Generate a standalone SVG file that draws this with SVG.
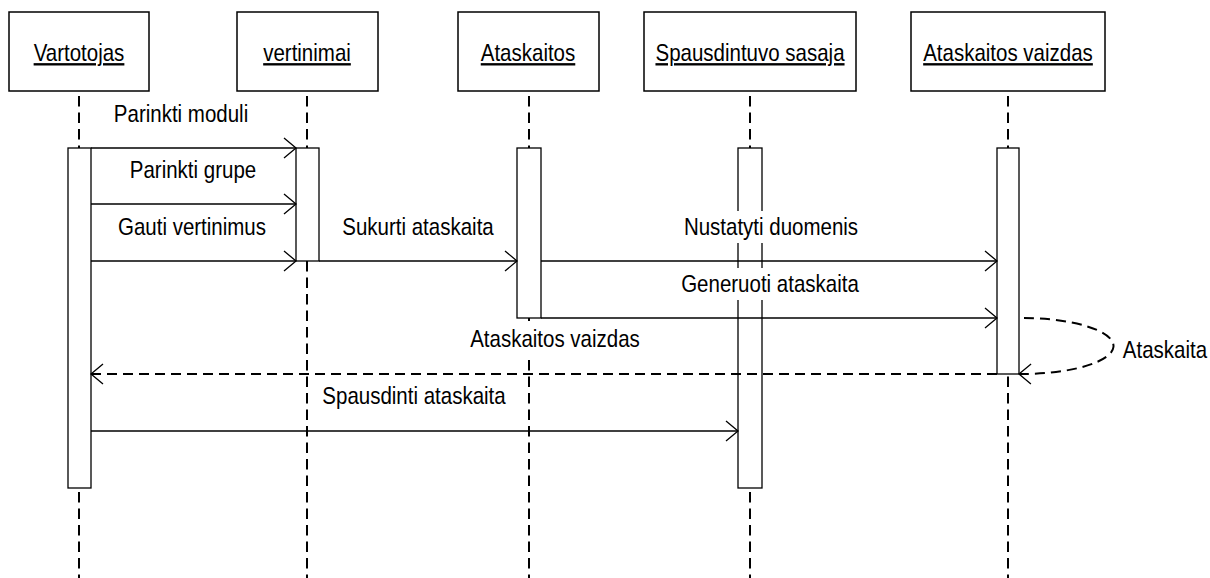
<svg xmlns="http://www.w3.org/2000/svg" width="1210" height="578" viewBox="0 0 1210 578">
  <style>
    .box { fill: #fff; stroke: #000; stroke-width: 1.5; }
    .life { fill: none; stroke: #000; stroke-width: 2; stroke-dasharray: 10.5 6; }
    .act { fill: #fff; stroke: #000; stroke-width: 1.3; }
    .msg { fill: none; stroke: #000; stroke-width: 1.3; marker-end: url(#open); }
    .ret { fill: none; stroke: #000; stroke-width: 2; stroke-dasharray: 10 6; marker-end: url(#open); }
    .lbl { font-family: "Liberation Sans", Arial, sans-serif; font-size: 20.5px; fill: #000; text-anchor: middle; }
    .title { text-decoration: underline; }
    .bg { fill: #fff; stroke: none; }
  </style>
  <defs>
    <marker id="open" markerUnits="userSpaceOnUse" viewBox="-14 -12 16 24" refX="0" refY="0" markerWidth="16" markerHeight="24" orient="auto" overflow="visible">
      <path d="M-12,-10 L0,0 L-12,10" fill="none" stroke="#000" stroke-width="1.3"/>
    </marker>
  </defs>

  <rect width="1210" height="578" fill="#fff"/>

  <!-- lifelines -->
  <g id="lifelines">
    <line class="life" x1="79" y1="96" x2="79" y2="578"/>
    <line class="life" x1="307" y1="96" x2="307" y2="578"/>
    <line class="life" x1="529" y1="96" x2="529" y2="578"/>
    <line class="life" x1="750" y1="96" x2="750" y2="578"/>
    <line class="life" x1="1008" y1="96" x2="1008" y2="578"/>
  </g>

  <!-- participants -->
  <g id="vartotojas">
    <rect class="box" x="9" y="12" width="140" height="79"/>
    <text class="lbl title" transform="translate(79 61) scale(1 1.15)">Vartotojas</text>
    <rect class="act" x="68" y="148" width="23" height="340"/>
  </g>
  <g id="vertinimai">
    <rect class="box" x="237" y="12" width="141" height="79"/>
    <text class="lbl title" transform="translate(307 61) scale(1 1.15)">vertinimai</text>
    <rect class="act" x="296" y="148" width="23" height="113"/>
  </g>
  <g id="ataskaitos">
    <rect class="box" x="458" y="12" width="141" height="79"/>
    <text class="lbl title" transform="translate(528 61) scale(1 1.15)">Ataskaitos</text>
    <rect class="act" x="517" y="148" width="24" height="170"/>
  </g>
  <g id="spausdintuvo-sasaja">
    <rect class="box" x="644" y="12" width="212" height="79"/>
    <text class="lbl title" transform="translate(750 61) scale(1 1.15)">Spausdintuvo sasaja</text>
    <rect class="act" x="738" y="148" width="24" height="340"/>
  </g>
  <g id="ataskaitos-vaizdas">
    <rect class="box" x="911" y="12" width="194" height="79"/>
    <text class="lbl title" transform="translate(1008 61) scale(1 1.15)">Ataskaitos vaizdas</text>
    <rect class="act" x="997" y="148" width="22" height="226"/>
  </g>

  <!-- messages -->
  <g id="connectors">
    <line class="msg" x1="91" y1="148" x2="296" y2="148"/>
    <line class="msg" x1="91" y1="204" x2="296" y2="204"/>
    <line class="msg" x1="91" y1="261" x2="296" y2="261"/>
    <line class="msg" x1="319" y1="261" x2="517" y2="261"/>
    <line class="msg" x1="541" y1="261" x2="997" y2="261"/>
    <line class="msg" x1="541" y1="318" x2="997" y2="318"/>
    <path class="ret" d="M1024,318 A92,28 0 0 1 1019,374"/>
    <line class="ret" x1="997" y1="374" x2="91" y2="374"/>
    <line class="msg" x1="91" y1="431" x2="738" y2="431"/>
  </g>

  <!-- message labels -->
  <g id="labels">
    <text class="lbl" transform="translate(181 122) scale(1 1.15)">Parinkti moduli</text>
    <text class="lbl" transform="translate(193 178) scale(1 1.15)">Parinkti grupe</text>
    <text class="lbl" transform="translate(192 235) scale(1 1.15)">Gauti vertinimus</text>
    <text class="lbl" transform="translate(418 235) scale(1 1.15)">Sukurti ataskaita</text>
    <rect class="bg" x="678" y="211" width="186" height="32"/>
    <text class="lbl" transform="translate(771 235) scale(1 1.15)">Nustatyti duomenis</text>
    <rect class="bg" x="676" y="268" width="188" height="32"/>
    <text class="lbl" transform="translate(770 292) scale(1 1.15)">Generuoti ataskaita</text>
    <rect class="bg" x="468" y="321" width="174" height="36"/>
    <text class="lbl" transform="translate(555 347) scale(1 1.15)">Ataskaitos vaizdas</text>
    <text class="lbl" transform="translate(1165 358) scale(1 1.15)">Ataskaita</text>
    <text class="lbl" transform="translate(414 404) scale(1 1.15)">Spausdinti ataskaita</text>
  </g>
</svg>
